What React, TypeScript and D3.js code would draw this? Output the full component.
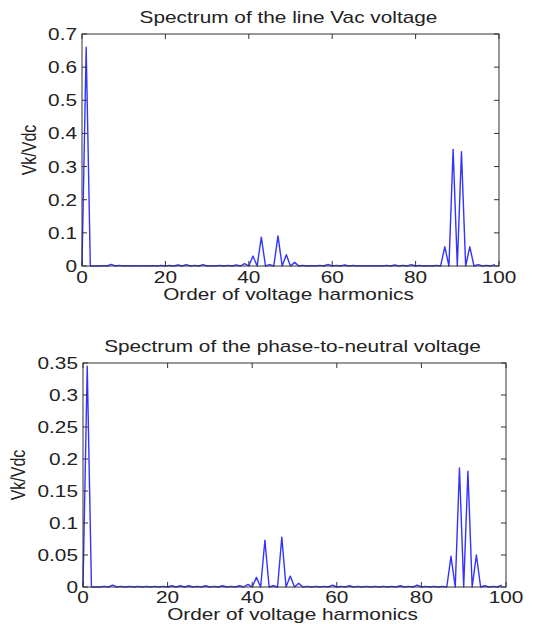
import React from "react";
import * as d3 from "d3";

// Harmonic orders 0..99
const ORDERS: number[] = Array.from({ length: 100 }, (_, i) => i);

// Spectrum of the line Vac voltage (Vk/Vdc), index = harmonic order
const LINE_VALUES: number[] = [
  0, 0.66, 0, 0, 0, 0.001, 0, 0.005, 0, 0.002,
  0, 0.001, 0, 0.001, 0, 0.001, 0, 0.001, 0, 0.002,
  0, 0.002, 0, 0.003, 0, 0.004, 0, 0.002, 0, 0.004,
  0, 0.001, 0, 0.002, 0, 0.002, 0, 0.003, 0, 0.007,
  0, 0.03, 0, 0.087, 0, 0.004, 0, 0.091, 0, 0.034,
  0, 0.011, 0, 0.002, 0, 0.001, 0, 0.002, 0, 0.005,
  0, 0.002, 0, 0.003, 0, 0.002, 0, 0.001, 0, 0.001,
  0, 0.001, 0, 0.002, 0, 0.003, 0, 0.002, 0, 0.004,
  0, 0.002, 0, 0.001, 0, 0.002, 0, 0.058, 0, 0.352,
  0, 0.345, 0, 0.058, 0, 0.004, 0, 0.002, 0, 0.004,
];

// Spectrum of the phase-to-neutral voltage (Vk/Vdc)
const PHASE_VALUES: number[] = [
  0, 0.345, 0, 0, 0, 0.001, 0, 0.003, 0, 0.001,
  0, 0.001, 0, 0.001, 0, 0.001, 0, 0.001, 0, 0.001,
  0, 0.002, 0, 0.002, 0, 0.002, 0, 0.001, 0, 0.002,
  0, 0.001, 0, 0.002, 0, 0.001, 0, 0.002, 0, 0.004,
  0, 0.015, 0, 0.073, 0, 0.002, 0, 0.078, 0, 0.017,
  0, 0.006, 0, 0.001, 0, 0.001, 0, 0.001, 0, 0.003,
  0, 0.001, 0, 0.002, 0, 0.001, 0, 0.001, 0, 0.001,
  0, 0.001, 0, 0.001, 0, 0.002, 0, 0.001, 0, 0.003,
  0, 0.001, 0, 0.001, 0, 0.001, 0, 0.048, 0, 0.186,
  0, 0.181, 0, 0.05, 0, 0.002, 0, 0.001, 0, 0.003,
];

const X_TICKS: number[] = [0, 20, 40, 60, 80, 100];
const X_TICK_LABELS: string[] = ["0", "20", "40", "60", "80", "100"];

const TOP_Y_TICKS: number[] = [0, 0.1, 0.2, 0.3, 0.4, 0.5, 0.6, 0.7];
const TOP_Y_LABELS: string[] = ["0", "0.1", "0.2", "0.3", "0.4", "0.5", "0.6", "0.7"];

const BOT_Y_TICKS: number[] = [0, 0.05, 0.1, 0.15, 0.2, 0.25, 0.3, 0.35];
const BOT_Y_LABELS: string[] = ["0", "0.05", "0.1", "0.15", "0.2", "0.25", "0.3", "0.35"];

const TITLES: string[] = [
  "Spectrum of the line Vac voltage",
  "Spectrum of the phase-to-neutral voltage",
];
const X_LABEL = "Order of voltage harmonics";
const Y_LABEL = "Vk/Vdc";

const FONT = "'Liberation Sans', Arial, Helvetica, sans-serif";
const SX = 1.3;
const FS = 16;

type PanelProps = {
  left: number;
  right: number;
  top: number;
  bottom: number;
  yMax: number;
  yTicks: number[];
  yLabels: string[];
  values: number[];
  title: string;
  titleY: number;
  xTickY: number;
  xLabelY: number;
  yLabelX: number;
};

function Label({ x, y, anchor, children, rotate }: any) {
  const t = rotate
    ? `translate(${x},${y}) scale(${SX},1) rotate(-90)`
    : `translate(${x},${y}) scale(${SX},1)`;
  return (
    <text
      transform={t}
      textAnchor={anchor}
      fontFamily={FONT}
      fontSize={FS}
      fill="#222"
    >
      {children}
    </text>
  );
}

function Panel(p: PanelProps) {
  const x = d3.scaleLinear().domain([0, 100]).range([p.left, p.right]);
  const y = d3.scaleLinear().domain([0, p.yMax]).range([p.bottom, p.top]);
  const line = d3
    .line<number>()
    .x((_, i) => x(ORDERS[i]))
    .y((v) => y(v));
  const tl = 5;
  const cx = (p.left + p.right) / 2 - 2;
  return (
    <g>
      <Label x={cx} y={p.titleY} anchor="middle">{p.title}</Label>
      <path d={line(p.values) || ""} fill="none" stroke="#3333ff" strokeWidth={1.4} strokeLinejoin="round" />
      <rect
        x={p.left}
        y={p.top}
        width={p.right - p.left}
        height={p.bottom - p.top}
        fill="none"
        stroke="#333"
        strokeWidth={1}
      />
      {X_TICKS.map((t, i) => (
        <g key={"x" + i}>
          <line x1={x(t)} x2={x(t)} y1={p.bottom} y2={p.bottom - tl} stroke="#333" />
          <line x1={x(t)} x2={x(t)} y1={p.top} y2={p.top + tl} stroke="#333" />
          <Label x={x(t)} y={p.xTickY} anchor="middle">{X_TICK_LABELS[i]}</Label>
        </g>
      ))}
      {p.yTicks.map((t, i) => (
        <g key={"y" + i}>
          <line x1={p.left} x2={p.left + tl} y1={y(t)} y2={y(t)} stroke="#333" />
          <line x1={p.right} x2={p.right - tl} y1={y(t)} y2={y(t)} stroke="#333" />
          <Label x={p.left - 5} y={y(t) + 6} anchor="end">{p.yLabels[i]}</Label>
        </g>
      ))}
      <Label x={cx} y={p.xLabelY} anchor="middle">{X_LABEL}</Label>
      <Label x={p.yLabelX} y={(p.top + p.bottom) / 2} anchor="middle" rotate>
        {Y_LABEL}
      </Label>
    </g>
  );
}

export default function App() {
  return (
    <svg
      width={533}
      height={624}
      style={{ position: "absolute", left: 0, top: 0, background: "#fff" }}
    >
      <rect x={0} y={0} width={533} height={624} fill="#fff" />
      <Panel
        left={82}
        right={499}
        top={34}
        bottom={266}
        yMax={0.7}
        yTicks={TOP_Y_TICKS}
        yLabels={TOP_Y_LABELS}
        values={LINE_VALUES}
        title={TITLES[0]}
        titleY={23}
        xTickY={283}
        xLabelY={300}
        yLabelX={36}
      />
      <Panel
        left={83}
        right={506}
        top={363}
        bottom={587}
        yMax={0.35}
        yTicks={BOT_Y_TICKS}
        yLabels={BOT_Y_LABELS}
        values={PHASE_VALUES}
        title={TITLES[1]}
        titleY={352}
        xTickY={603}
        xLabelY={620}
        yLabelX={25}
      />
    </svg>
  );
}
